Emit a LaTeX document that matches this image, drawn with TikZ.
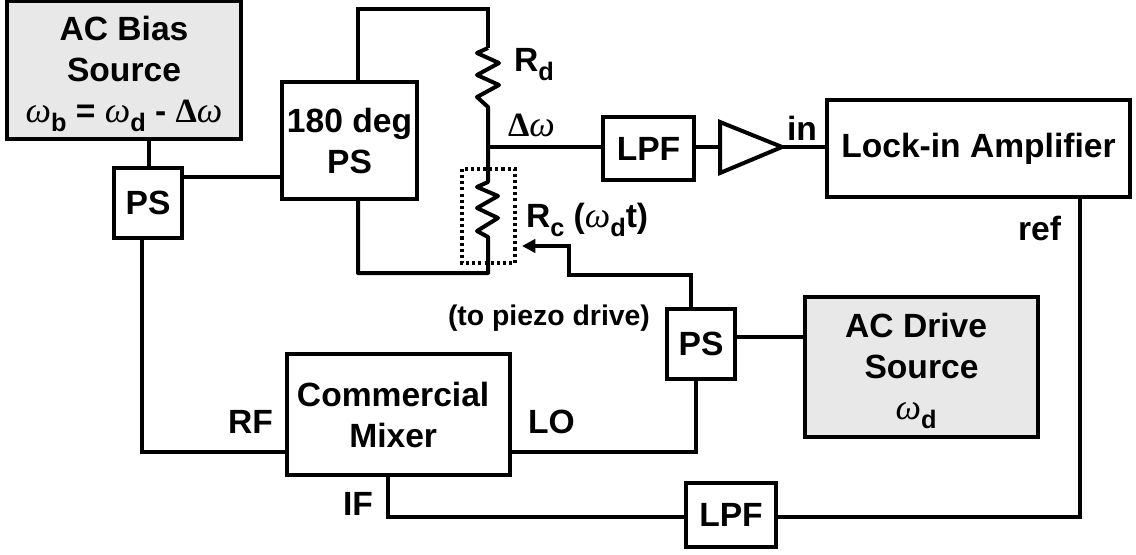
\documentclass[tikz,border=0pt]{standalone}
\usepackage{fontspec}
\setmainfont{Liberation Sans}[BoldFont={Liberation Sans Bold}]
\newfontfamily\grk{Liberation Serif}
\usetikzlibrary{arrows.meta}
\newcommand{\om}{{\grk\itshape\mdseries\fontsize{27}{27}\selectfont ω}}
\newcommand{\dom}{{\grk\bfseries\fontsize{25.5}{25.5}\selectfont Δ\itshape\mdseries\fontsize{27}{27}\selectfont ω}}
\newcommand{\sbs}[1]{\raisebox{-7pt}{\fontsize{19}{19}\selectfont #1}}
\newcommand{\toppad}{\rule{0pt}{24pt}}
\tikzset{
  wire/.style={line width=3pt,line join=miter},
  box/.style={draw,line width=3pt,inner sep=0pt,outer sep=0pt,align=center,font=\fontsize{25.2}{30.75}\selectfont\bfseries},
  srcbox/.style={box,fill=black!9},
  lab/.style={inner sep=0pt,outer sep=0pt,anchor=base west,font=\fontsize{25.2}{30}\selectfont\bfseries},
  small/.style={lab,font=\fontsize{21.3}{24}\selectfont\bfseries}
}
\begin{document}
\begin{tikzpicture}[x=0.75pt,y=-0.75pt]
\useasboundingbox (0,0) rectangle (1136,554);
% boxes
\node[srcbox,minimum width=175.5pt,minimum height=103.5pt] (bias) at (124,70) {\toppad AC Bias\\Source\\\om\sbs{b} = \om\sbs{d} - \dom};
\node[box,minimum width=51pt,minimum height=52.5pt] (psa) at (148,203) {PS};
\node[box,minimum width=101.25pt,minimum height=87.75pt] (deg) at (349.5,140.5) {180 deg\\PS};
\node[box,minimum width=68.25pt,minimum height=47.25pt] (lpfa) at (648.5,148.5) {LPF};
\node[box,minimum width=227.25pt,minimum height=72.75pt] (lock) at (978.5,148.5) {Lock-in Amplifier};
\node[box,minimum width=51.25pt,minimum height=52.5pt] (psb) at (701,344) {PS};
\node[srcbox,minimum width=174.75pt,minimum height=105pt] (drive) at (921.5,367) {\toppad AC Drive\hspace*{8pt}\\Source\hspace*{8pt}\\\om\sbs{d}\hspace*{8pt}};
\node[box,minimum width=167.25pt,minimum height=90.75pt] (mix) at (398.5,414.5) {Commercial\hspace*{8pt}\\Mixer\hspace*{8pt}};
\node[box,minimum width=67.5pt,minimum height=48pt] (lpfb) at (731,515) {LPF};
% amplifier
\coordinate (ampw) at (720,147);
\coordinate (ampe) at (782,147);
\draw[wire] (720,122) -- (782,147) -- (720,173) -- cycle;
% named junctions
\coordinate (tl) at (358,9);
\coordinate (tr) at (488,9);
\coordinate (ra1) at (488,48);
\coordinate (ra2) at (488,107);
\coordinate (jn) at (488,147);
\coordinate (rb1) at (488,182);
\coordinate (rb2) at (488,237);
\coordinate (br) at (488,273);
\coordinate (bl) at (358,273);
% bridge wiring
\draw[wire] (tl |- deg.north) -- (tl) -- (tr) -- (ra1);
\draw[wire,line join=round] (ra1) -- (477,53) -- (499,63) -- (477,75) -- (499,85) -- (477,97) -- (ra2) -- (jn) -- (rb1)
   -- (477,187) -- (498,196) -- (477,208) -- (498,218) -- (477,231) -- (rb2) -- (br) -- (bl) -- (bl |- deg.south);
\draw[line width=2.4pt,dash pattern=on 2.3pt off 2.3pt] (462,169) rectangle (515,263);
% signal wires
\draw[wire] (jn) -- (lpfa.west |- jn);
\draw[wire] (lpfa.east |- ampw) -- (ampw);
\draw[wire] (ampe) -- (lock.west |- ampe);
\draw[wire] (149,0 |- psa.north) -- (149,0 |- bias.south);
\draw[wire] (psa.east |- 0,177) -- (deg.west |- 0,177);
\draw[wire] (142,0 |- psa.south) -- (142,452) -- (mix.west |- 0,452);
\draw[wire] (mix.east |- 0,452) -- (696,452) -- (696,0 |- psb.south);
\draw[wire] (psb.east |- 0,337) -- (drive.west |- 0,337);
\draw[wire,-{Triangle[length=10pt,width=10pt]}] (691,0 |- psb.north) -- (691,275) -- (569,275) -- (569,246) -- (522,246);
\draw[wire] (1080,0 |- lock.south) -- (1080,517) -- (lpfb.east |- 0,517);
\draw[wire] (lpfb.west |- 0,517) -- (388,517) -- (388,0 |- mix.south);
% labels
\node[lab] (lrd) at (514,71) {R\sbs{d}};
\node[lab] (ldw) at (508,136) {\dom};
\node[lab] (lrc) at (526,227) {R\sbs{c} (\om\sbs{d}t)};
\node[small] (lpz) at (448,325) {(to piezo drive)};
\node[lab] (lin) at (787,140) {in};
\node[lab] (lref) at (1018,240) {ref};
\node[lab] (lrf) at (228,433) {RF};
\node[lab] (llo) at (528,433) {LO};
\node[lab] (lif) at (343,515) {IF};
\end{tikzpicture}
\end{document}
